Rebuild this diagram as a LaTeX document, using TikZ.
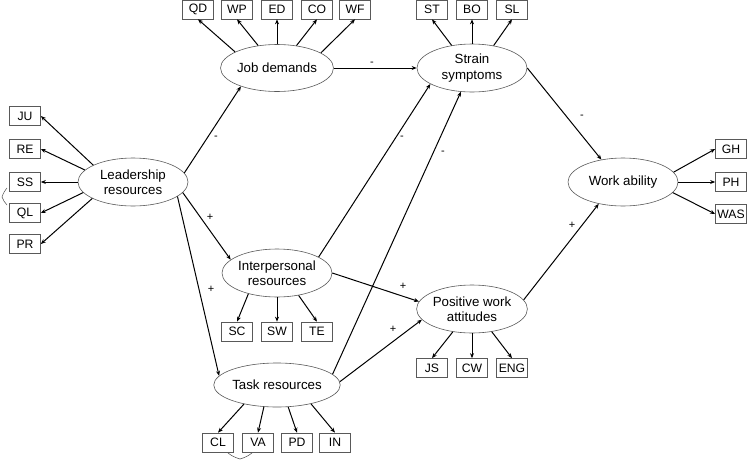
\documentclass[tikz,border=0pt]{standalone}
\usepackage{fontspec}
\setmainfont{Liberation Sans}
\usetikzlibrary{shapes.geometric,arrows.meta}

\begin{document}
\begin{tikzpicture}[x=1pt,y=-1pt,
  latent/.style={draw=black!65,line width=0.6pt,ellipse,minimum width=110pt,minimum height=48pt,inner sep=0pt,align=center,font=\fontsize{13.3}{15.5}\selectfont},
  ind/.style={draw=black!65,line width=0.7pt,minimum width=31pt,minimum height=19pt,inner sep=1pt,font=\fontsize{12.2}{14}\selectfont},
  link/.style={-{Stealth[length=5pt,width=4pt]},line width=1pt},
  sign/.style={font=\fontsize{11}{12}\selectfont,inner sep=0pt}]
\useasboundingbox (0,0) rectangle (750,461);
% latent factors
\node[latent] (lead) at (133,182) {Leadership\\resources};
\node[latent,minimum height=47pt] (jobd) at (277,68) {Job demands};
\node[latent] (strain) at (472,68) {Strain\\symptoms};
\node[latent] (inter) at (277,273) {Interpersonal\\resources};
\node[latent,minimum height=44pt] (task) at (277,385) {Task resources};
\node[latent] (pwa) at (472,309) {Positive work\\attitudes};
\node[latent] (wab) at (623,182) {Work ability};
% indicators
\foreach \n/\x in {QD/198,WP/237,ED/277,CO/317,WF/355} \node[ind] (\n) at (\x,9.5) {\n};
\foreach \n/\x in {ST/432,BO/472,SL/512} \node[ind] (\n) at (\x,9.5) {\n};
\foreach \n/\y in {JU/116,RE/149,SS/182,QL/213,PR/244} \node[ind] (\n) at (25,\y) {\n};
\foreach \n/\y in {GH/149,PH/182,WAS/214} \node[ind] (\n) at (731,\y) {\n};
\foreach \n/\x in {SC/237,SW/277,TE/317} \node[ind] (\n) at (\x,331.5) {\n};
\foreach \n/\x in {JS/432,CW/472,ENG/512} \node[ind] (\n) at (\x,368) {\n};
\foreach \n/\x in {CL/218,VA/258,PD/297,IN/335} \node[ind] (\n) at (\x,442.5) {\n};
\foreach \n/\a in {QD/159,WP/130,ED/90,CO/49,WF/19} \draw[link] (jobd.\a) -- (\n.south);
\foreach \n/\a in {ST/132,BO/90,SL/46} \draw[link] (strain.\a) -- (\n.south);
\foreach \n/\a in {JU/157,RE/166,SS/180,QL/192,PR/202} \draw[link] (lead.\a) -- (\n.east);
\foreach \n/\a in {GH/11,PH/0,WAS/348} \draw[link] (wab.\a) -- (\n.west);
\foreach \n/\a in {SC/216,SW/270,TE/314} \draw[link] (inter.\a) -- (\n.north);
\foreach \n/\a in {JS/230,CW/270,ENG/311} \draw[link] (pwa.\a) -- (\n.north);
\foreach \n/\a in {CL/210,VA/239,PD/297,IN/331} \draw[link] (task.\a) -- (\n.north);
% structural paths
\draw[link] (lead.10) -- (jobd.207);
\draw[link] (lead.348) -- (inter.164);
\draw[link] (lead.342) -- (task.171);
\draw[link] (jobd) -- (strain);
\draw[link] (inter.21) -- (strain.201);
\draw[link] (task.11) -- (strain.245);
\draw[link] (inter.east) -- (pwa.172);
\draw[link] (task.3) -- (pwa.192);
\draw[link] (strain.east) -- (wab.134);
\draw[link] (pwa.10) -- (wab.222);
\node[sign] (s1) at (216,138) {-};
\node[sign] (s2) at (210,217) {+};
\node[sign] (s3) at (211,289) {+};
\node[sign] (s4) at (372,64) {-};
\node[sign] (s5) at (402,138) {-};
\node[sign] (s6) at (443,153) {-};
\node[sign] (s7) at (403,286) {+};
\node[sign] (s8) at (393,329) {+};
\node[sign] (s9) at (582,117) {-};
\node[sign] (s10) at (572,225) {+};
% correlated errors
\draw[line width=0.5pt,black!70] (7,188) to[bend right=10] (2,197) to[bend right=10] (7,205);
\draw[line width=0.5pt,black!70] (228,453) to[bend right=10] (240,459) to[bend right=10] (252,453);
\end{tikzpicture}
\end{document}
